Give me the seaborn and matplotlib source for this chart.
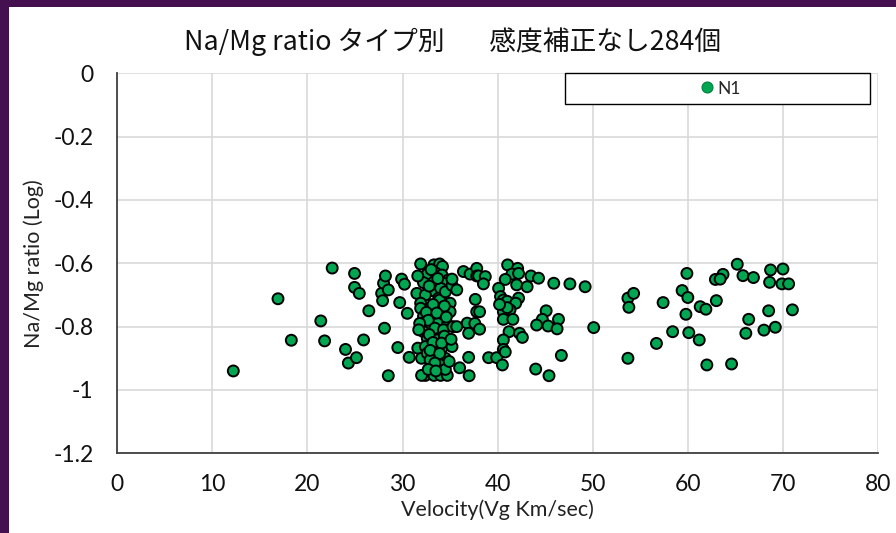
import matplotlib
matplotlib.use("Agg")
import matplotlib.pyplot as plt
from matplotlib.patches import Rectangle
import seaborn as sns
import pandas as pd

# ---------------- data ----------------
velocity = [
    12.2, 16.9, 18.3, 21.4, 21.8, 22.6, 24.0, 24.3, 24.95, 24.95, 25.15, 25.45, 25.9, 26.45,
    27.8, 27.9, 28.0, 28.2, 28.5, 28.1, 28.5, 29.5, 29.7, 29.9, 30.2, 30.5, 30.7, 31.6, 32.0,
    31.9, 33.3, 33.9, 34.2, 32.6, 33.5, 34.15, 34.8, 32.2, 33.3, 34.3, 33.1, 34.0, 31.5, 32.4,
    33.8, 35.0, 31.9, 33.9, 32.9, 34.0, 31.9, 35.0, 32.2, 33.3, 34.0, 32.2, 32.9, 33.7, 34.7,
    32.2, 33.1, 33.9, 32.6, 33.6, 34.7, 32.4, 33.3, 34.2, 35.2, 32.6, 33.6, 34.5, 32.9, 34.0,
    33.3, 32.4, 33.3, 34.0, 34.7, 32.0,
    33.0, 33.7, 32.8, 34.5, 33.2, 34.4, 32.5, 33.6, 34.6, 32.7, 33.4, 34.3, 32.8, 34.4, 33.2,
    34.1, 32.9, 33.9, 33.4, 32.7, 34.5, 31.8, 31.7, 35.3, 35.2, 31.6, 33.5, 34.9,
    35.2, 35.7, 36.4, 37.1, 37.8, 37.8, 37.65, 37.8, 35.7, 36.8, 36.95, 37.6, 35.1, 36.95, 36.0, 37.0,
    38.0, 38.7, 38.5, 38.1, 38.1, 39.05, 39.9,
    41.05, 42.1, 41.5, 42.2, 40.8, 42.0, 43.1, 43.5, 44.3, 45.9, 47.6, 49.2, 40.1, 40.3, 40.6,
    41.0, 42.2, 41.9, 41.3, 40.6, 40.6, 41.6, 45.1, 44.7, 46.4, 44.1, 45.3, 46.25, 50.1, 41.2,
    42.3, 42.6, 40.6, 40.6, 40.8, 40.5, 46.7, 44.0, 45.4, 41.0, 40.2,
    53.7, 53.7, 53.8, 54.3, 56.7, 57.4, 58.4, 59.4, 59.9, 60.0, 59.8, 60.1, 61.2, 61.3, 61.9,
    62.0, 62.9, 63.0, 63.7, 63.4, 64.6, 65.2, 65.8, 66.9, 66.4, 66.1, 68.7, 70.0, 68.6, 69.9,
    70.6, 71.0, 68.5, 68.0, 69.2,
]
na_mg_ratio = [
    -0.94, -0.712, -0.843, -0.782, -0.845, -0.615, -0.872, -0.915, -0.632, -0.676, -0.898, -0.695, -0.842, -0.75,
    -0.695, -0.718, -0.663, -0.64, -0.684, -0.805, -0.955, -0.866, -0.724, -0.65, -0.666, -0.758, -0.897, -0.868, -0.9,
    -0.602, -0.605, -0.602, -0.61, -0.634, -0.631, -0.637, -0.653, -0.661, -0.658, -0.663, -0.686, -0.679, -0.695, -0.70,
    -0.71, -0.726, -0.726, -0.716, -0.745, -0.747, -0.742, -0.753, -0.768, -0.768, -0.779, -0.789, -0.798, -0.79, -0.795,
    -0.816, -0.821, -0.821, -0.837, -0.842, -0.842, -0.863, -0.863, -0.865, -0.863, -0.884, -0.9, -0.9, -0.905, -0.921,
    -0.93, -0.954, -0.954, -0.954, -0.954, -0.954,
    -0.62, -0.648, -0.672, -0.69, -0.73, -0.735, -0.755, -0.757, -0.77, -0.78, -0.805, -0.81, -0.825, -0.83, -0.85,
    -0.852, -0.875, -0.885, -0.915, -0.935, -0.935, -0.79, -0.81, -0.80, -0.67, -0.64, -0.94, -0.91,
    -0.65, -0.684, -0.626, -0.634, -0.616, -0.64, -0.714, -0.753, -0.80, -0.789, -0.821, -0.79, -0.84, -0.897, -0.93, -0.955,
    -0.64, -0.642, -0.665, -0.753, -0.808, -0.898, -0.898,
    -0.605, -0.616, -0.634, -0.632, -0.651, -0.668, -0.674, -0.64, -0.647, -0.663, -0.665, -0.674, -0.679, -0.705, -0.716,
    -0.72, -0.71, -0.726, -0.747, -0.753, -0.777, -0.777, -0.75, -0.777, -0.777, -0.795, -0.798, -0.807, -0.803, -0.816,
    -0.821, -0.834, -0.842, -0.872, -0.88, -0.921, -0.891, -0.934, -0.955, -0.74, -0.73,
    -0.9, -0.71, -0.739, -0.695, -0.853, -0.724, -0.816, -0.686, -0.632, -0.708, -0.761, -0.819, -0.842, -0.737, -0.745,
    -0.921, -0.651, -0.718, -0.635, -0.65, -0.918, -0.603, -0.639, -0.645, -0.777, -0.821, -0.621, -0.618, -0.66, -0.665,
    -0.665, -0.747, -0.75, -0.811, -0.802,
]
series_name = "N1"
x_ticks = [0, 10, 20, 30, 40, 50, 60, 70, 80]
x_tick_labels = ["0", "10", "20", "30", "40", "50", "60", "70", "80"]
y_ticks = [0, -0.2, -0.4, -0.6, -0.8, -1.0, -1.2]
y_tick_labels = ["0", "-0.2", "-0.4", "-0.6", "-0.8", "-1", "-1.2"]
title = "Na/Mg ratio タイプ別　   感度補正なし284個"
x_label = "Velocity(Vg Km/sec)"
y_label = "Na/Mg ratio (Log)"

df = pd.DataFrame({"velocity": velocity, "ratio": na_mg_ratio,
                   "type": [series_name] * len(velocity)})

# ---------------- figure ----------------
sns.set_style("white")
plt.rcParams["font.family"] = ["Lato", "Noto Sans CJK JP", "DejaVu Sans"]

W, H = 896, 533
fig = plt.figure(figsize=(W / 100, H / 100), dpi=100)
fig.patch.set_facecolor("#45104f")
bg = Rectangle((9 / W, 0), 1 - 9 / W, 1 - 7 / H, transform=fig.transFigure,
               facecolor="white", edgecolor="none")
bg.set_zorder(-10)
fig.add_artist(bg)

ax_h = 453.3 - 73.3
ax_w = 878 - 117.3
ax = fig.add_axes([117.3 / W, 1 - 453.3 / H, ax_w / W, ax_h / H])
ax.set_zorder(1)
ax.set_facecolor("white")

sns.scatterplot(data=df, x="velocity", y="ratio", hue="type", palette=["#00a651"],
                s=62, edgecolor="black", linewidth=1.4, ax=ax, zorder=3, legend=True)

ax.set_xlim(0, 80)
ax.set_ylim(-1.2, 0)
ax.set_xticks(x_ticks)
ax.set_xticklabels(x_tick_labels)
ax.set_yticks(y_ticks)
ax.set_yticklabels(y_tick_labels)
ax.grid(True, color="#d9d9d9", linewidth=1.2, zorder=0)
ax.set_axisbelow(True)
for side in ["top", "right"]:
    ax.spines[side].set_visible(False)
for side in ["left", "bottom"]:
    ax.spines[side].set_color("#404040")
    ax.spines[side].set_linewidth(1.3)
ax.tick_params(axis="both", direction="in", length=8, width=1.2, color="#404040",
               labelsize=16.5, labelcolor="#111111")
ax.tick_params(axis="y", pad=17)
ax.tick_params(axis="x", pad=15)

ax.set_xlabel(x_label, fontsize=15.5, color="#222222")
ax.set_ylabel(y_label, fontsize=15.5, color="#222222")
ax.xaxis.label.set_va("center")
ax.yaxis.label.set_va("center")
ax.xaxis.set_label_coords(0.5, -(510 - 453.3) / ax_h)
ax.yaxis.set_label_coords((34 - 117.3) / ax_w, 0.5)

fig.text(452.5 / W, 1 - 42 / H, title, ha="center", va="center", fontsize=19.3,
         family=["Noto Sans CJK JP", "DejaVu Sans"], color="#111111")

# legend box
leg = ax.legend(loc="center", bbox_to_anchor=((720 - 117.3) / ax_w, (453.3 - 88.5) / ax_h),
                frameon=False, fontsize=12.5, handletextpad=0.15, borderaxespad=0,
                markerscale=1.0, handlelength=0.9)
for h in leg.legend_handles:
    try:
        h.set_markeredgecolor("#00803a")
        h.set_markeredgewidth(0.8)
    except AttributeError:
        h.set_edgecolor("#00803a")
        h.set_linewidth(0.8)
ax.add_patch(Rectangle(((565 - 117.3) / ax_w, (453.3 - 104) / ax_h),
                       (870 - 565) / ax_w, (104 - 73) / ax_h,
                       transform=ax.transAxes, facecolor="white", edgecolor="black",
                       linewidth=1.0, zorder=4, clip_on=False))
leg.set_zorder(5)

fig.savefig("out.png", dpi=100, facecolor=fig.get_facecolor())
